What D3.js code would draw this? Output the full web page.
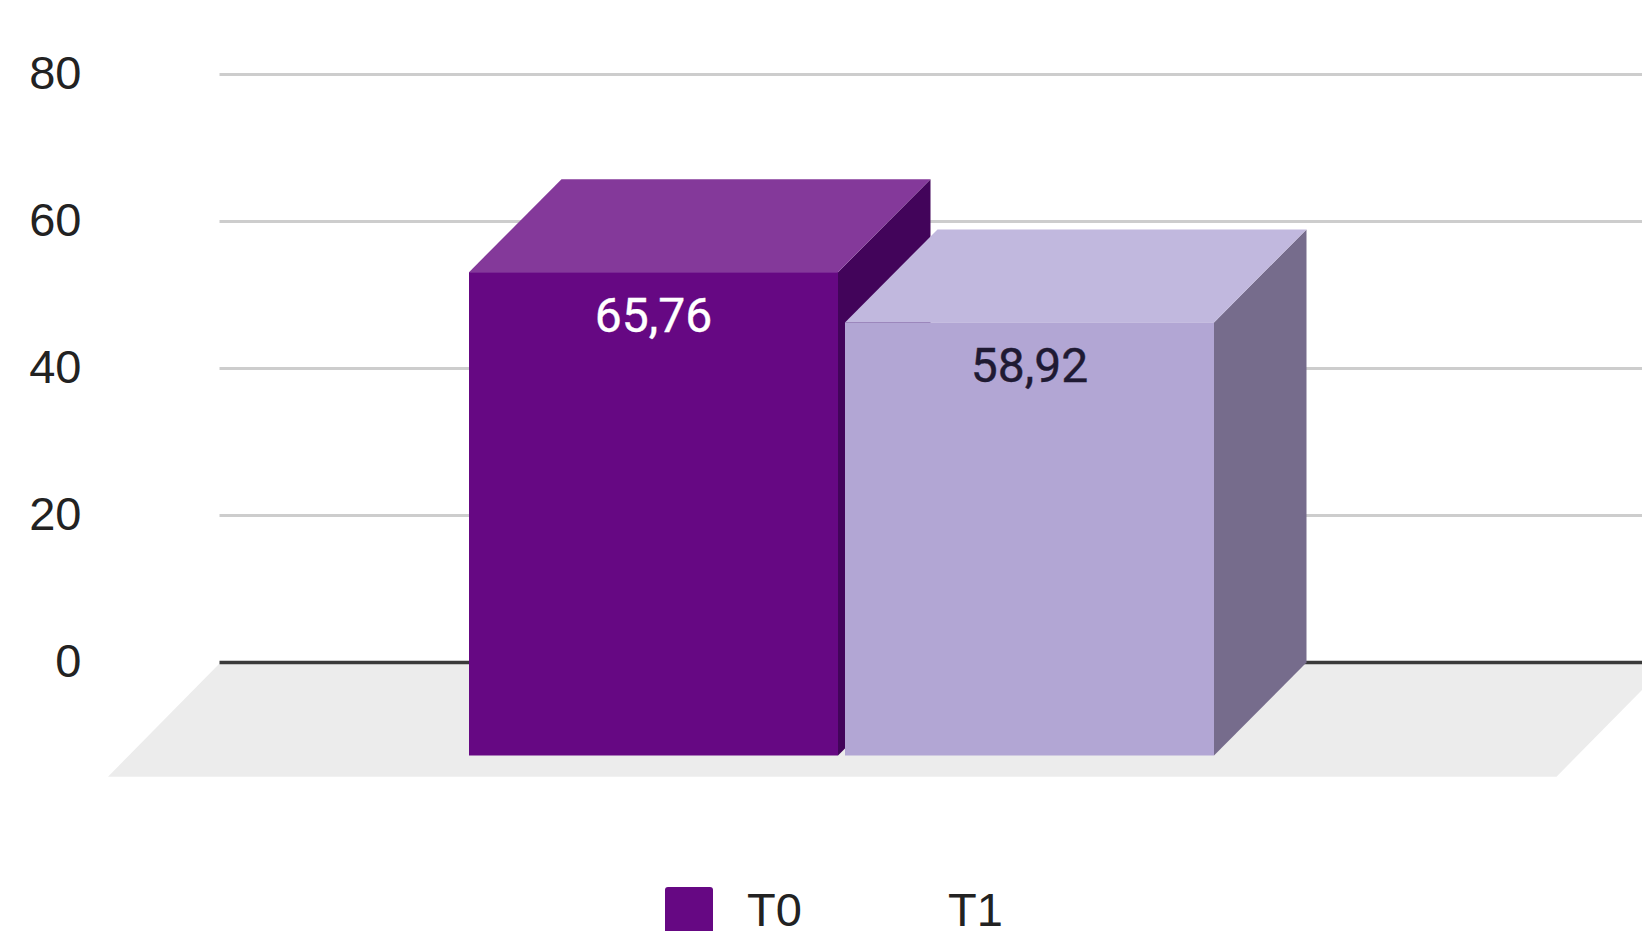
<!DOCTYPE html>
<html>
<head>
<meta charset="utf-8">
<script src="https://cdn.jsdelivr.net/npm/d3@7"></script>
<style>
html,body{margin:0;padding:0;background:#fff;overflow:hidden}
svg{display:block;font-family:"Liberation Sans",Arial,sans-serif}
</style>
</head>
<body>
<svg id="chart" width="1642" height="931"></svg>
<script>
const seriesNames = ["T0", "T1"];
const seriesValues = [65.76, 58.92];
const valueLabels = ["65,76", "58,92"];
const tickValues = [0, 20, 40, 60, 80];
const frontColors = ["#660883", "#b2a6d4"];
const topColors = ["#84399a", "#c1b8de"];
const sideColors = ["#42045a", "#766c8c"];
const labelColors = ["#ffffff", "#1f1a33"];

const W = 1642, H = 931;
const depthX = 92.5, depthY = 93;
const baseBack = 662.5;
const baseFront = baseBack + depthY;

const svg = d3.select("#chart");
const y = d3.scaleLinear().domain([0, 80]).range([baseBack, 74.5]);
const x = d3.scaleBand().domain(seriesNames).range([469, 1214]).paddingInner(7 / 376).paddingOuter(0);

// floor
svg.append("polygon")
  .attr("points", [[219.5, baseBack + 1], [1668, baseBack + 1], [1668 - 111.5, 776.7], [108, 776.7]].map(p => p.join(",")).join(" "))
  .attr("fill", "#ececec");

// gridlines
svg.append("g").selectAll("line")
  .data(tickValues)
  .join("line")
  .attr("x1", 219.5).attr("x2", W)
  .attr("y1", d => y(d)).attr("y2", d => y(d))
  .attr("stroke", d => d === 0 ? "#3a3a3a" : "#cdcdcd")
  .attr("stroke-width", d => d === 0 ? 3.5 : 3.2);

// y axis labels
const axis = d3.axisLeft(y).tickValues(tickValues).tickSize(0).tickPadding(0);
const axisG = svg.append("g").attr("transform", "translate(81.5,0)").call(axis);
axisG.select(".domain").remove();
axisG.selectAll("text")
  .attr("font-family", '"Liberation Sans",Arial,sans-serif')
  .attr("font-size", 47)
  .attr("fill", "#222")
  .attr("dy", null)
  .attr("dominant-baseline", "auto")
  .attr("transform", "translate(0,14)");

// 3D bars
const data = seriesNames.map((name, i) => ({
  name, value: seriesValues[i], label: valueLabels[i],
  front: frontColors[i], top: topColors[i], side: sideColors[i], labelColor: labelColors[i]
}));
const pts = a => a.map(p => p.join(",")).join(" ");
const bars = svg.append("g").selectAll("g").data(data).join("g");
const frontTop = d => y(d.value) + depthY;
bars.append("polygon").attr("fill", d => d.side).attr("points", d => {
  const r = x(d.name) + x.bandwidth(), t = frontTop(d);
  return pts([[r, t], [r + depthX, t - depthY], [r + depthX, baseBack], [r, baseFront]]);
});
bars.append("polygon").attr("fill", d => d.top).attr("points", d => {
  const l = x(d.name), r = l + x.bandwidth(), t = frontTop(d);
  return pts([[l, t], [r, t], [r + depthX, t - depthY], [l + depthX, t - depthY]]);
});
bars.append("rect")
  .attr("x", d => x(d.name))
  .attr("y", frontTop)
  .attr("width", x.bandwidth())
  .attr("height", d => baseFront - frontTop(d))
  .attr("fill", d => d.front);
bars.append("text")
  .attr("x", d => x(d.name) + x.bandwidth() / 2)
  .attr("y", d => frontTop(d) + 60)
  .attr("text-anchor", "middle")
  .attr("font-family", "Roboto, sans-serif")
  .attr("font-size", 48)
  .attr("fill", d => d.labelColor)
  .attr("stroke", d => d.labelColor)
  .attr("stroke-width", 0.4)
  .text(d => d.label);

// legend (only the T0 swatch is visible in the reference)
const legendX = [747, 948];
svg.append("rect")
  .attr("x", 665).attr("y", 887).attr("width", 48).attr("height", 60).attr("rx", 3)
  .attr("fill", frontColors[0]);
svg.append("g").selectAll("text")
  .data(seriesNames)
  .join("text")
  .attr("x", (d, i) => legendX[i])
  .attr("y", 926)
  .attr("font-size", 47)
  .attr("fill", "#222")
  .text(d => d);
</script>
</body>
</html>
